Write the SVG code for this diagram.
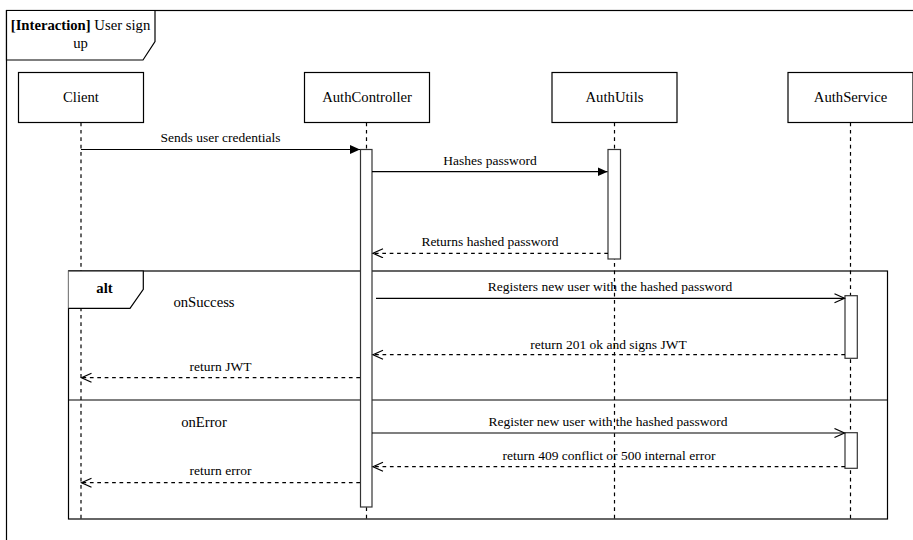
<svg xmlns="http://www.w3.org/2000/svg" width="913" height="540" viewBox="0 0 913 540">
  <defs>
    <style>
      .frame { fill: #ffffff; stroke: #000000; stroke-width: 1.2; }
      .box { fill: #ffffff; stroke: #000000; stroke-width: 1.2; }
      .act { fill: #ffffff; stroke: #333333; stroke-width: 1.2; }
      .life { fill: none; stroke: #000000; stroke-width: 1.2; stroke-dasharray: 3.7 3.7; }
      .sync { fill: none; stroke: #000000; stroke-width: 1.2; }
      .ret { fill: none; stroke: #000000; stroke-width: 1.2; stroke-dasharray: 3.7 3.7; }
      text { font-family: "Liberation Serif", Tinos, "DejaVu Serif", "Noto Serif", serif; fill: #000000; text-anchor: middle; }
      .node-label { font-size: 14.7px; }
      .msg-label { font-size: 13.5px; }
      .bold { font-weight: bold; }
    </style>
    <marker id="filled" markerUnits="userSpaceOnUse" markerWidth="12" markerHeight="11" refX="10" refY="4.5" orient="auto">
      <path d="M0,0 L10,4.5 L0,9 Z" fill="#000000"/>
    </marker>
    <marker id="open" markerUnits="userSpaceOnUse" markerWidth="13" markerHeight="12" refX="11" refY="5" orient="auto">
      <path d="M1,0.5 L11,5 L1,9.5" fill="none" stroke="#000000" stroke-width="1.2"/>
    </marker>
  </defs>

  <rect width="913" height="540" fill="#ffffff"/>

  <!-- interaction frame -->
  <g id="interaction-frame">
    <rect class="frame" x="6.5" y="10.5" width="920" height="540"/>
    <path class="frame" d="M6.5,10.5 H155 V41.5 L143,60 H6.5 Z"/>
    <text class="node-label" x="80.5" y="30"><tspan class="bold">[Interaction]</tspan> User sign</text>
    <text class="node-label" x="80.5" y="48">up</text>
  </g>

  <!-- lifelines -->
  <g id="lifelines">
    <line class="life" x1="81" y1="122.5" x2="81" y2="519"/>
    <line class="life" x1="366.5" y1="122.5" x2="366.5" y2="519"/>
    <line class="life" x1="614.5" y1="122.5" x2="614.5" y2="519"/>
    <line class="life" x1="850.5" y1="122.5" x2="850.5" y2="519"/>
  </g>

  <!-- participants -->
  <g id="client">
    <rect class="box" x="18.5" y="72.5" width="125" height="50"/>
    <text class="node-label" x="81" y="102">Client</text>
  </g>
  <g id="auth-controller">
    <rect class="box" x="304.5" y="72.5" width="125" height="50"/>
    <text class="node-label" x="367" y="102">AuthController</text>
  </g>
  <g id="auth-utils">
    <rect class="box" x="552" y="72.5" width="125" height="50"/>
    <text class="node-label" x="614.5" y="102">AuthUtils</text>
  </g>
  <g id="auth-service">
    <rect class="box" x="788" y="72.5" width="125" height="50"/>
    <text class="node-label" x="850.5" y="102">AuthService</text>
  </g>

  <!-- alt combined fragment -->
  <g id="alt-fragment">
    <rect x="68.5" y="271" width="819" height="248" fill="none" stroke="#000000" stroke-width="1.2"/>
    <path d="M68.5,271 H143.3 V289.3 L130,308.3 H68.5" fill="#ffffff" stroke="#000000" stroke-width="1.2"/>
    <text class="node-label bold" x="104.5" y="293">alt</text>
    <text class="node-label" x="204" y="306.5">onSuccess</text>
    <line x1="68.5" y1="400" x2="887.5" y2="400" stroke="#000000" stroke-width="1.2"/>
    <text class="node-label" x="204" y="426.5">onError</text>
  </g>

  <!-- activation bars -->
  <g id="activations">
    <rect class="act" x="360.5" y="149.5" width="11.5" height="357.5"/>
    <rect class="act" x="608" y="149.5" width="12.5" height="109.5"/>
    <rect class="act" x="845" y="295.7" width="12.3" height="62.6"/>
    <rect class="act" x="845" y="432.7" width="12.3" height="35.6"/>
  </g>

  <!-- messages -->
  <g id="connectors">
    <line class="sync" x1="81" y1="149.5" x2="360" y2="149.5" marker-end="url(#filled)"/>
    <text class="msg-label" x="220.5" y="142.2">Sends user credentials</text>

    <line class="sync" x1="372" y1="171.7" x2="607.5" y2="171.7" marker-end="url(#filled)"/>
    <text class="msg-label" x="490" y="164.5">Hashes password</text>

    <line class="ret" x1="608" y1="253.3" x2="373" y2="253.3" marker-end="url(#open)"/>
    <text class="msg-label" x="490" y="246">Returns hashed password</text>

    <line class="sync" x1="376" y1="298.3" x2="844.5" y2="298.3" marker-end="url(#open)"/>
    <text class="msg-label" x="610" y="290.7">Registers new user with the hashed password</text>

    <line class="ret" x1="845" y1="354.7" x2="373" y2="354.7" marker-end="url(#open)"/>
    <text class="msg-label" x="608.5" y="348.5">return 201 ok and signs JWT</text>

    <line class="ret" x1="360" y1="377.7" x2="81.5" y2="377.7" marker-end="url(#open)"/>
    <text class="msg-label" x="220.5" y="370.5">return JWT</text>

    <line class="sync" x1="372" y1="433" x2="844.5" y2="433" marker-end="url(#open)"/>
    <text class="msg-label" x="608" y="426">Register new user with the hashed password</text>

    <line class="ret" x1="845" y1="466.7" x2="373" y2="466.7" marker-end="url(#open)"/>
    <text class="msg-label" x="609" y="460">return 409 conflict or 500 internal error</text>

    <line class="ret" x1="360" y1="482.7" x2="81.5" y2="482.7" marker-end="url(#open)"/>
    <text class="msg-label" x="220.5" y="475">return error</text>
  </g>
</svg>
